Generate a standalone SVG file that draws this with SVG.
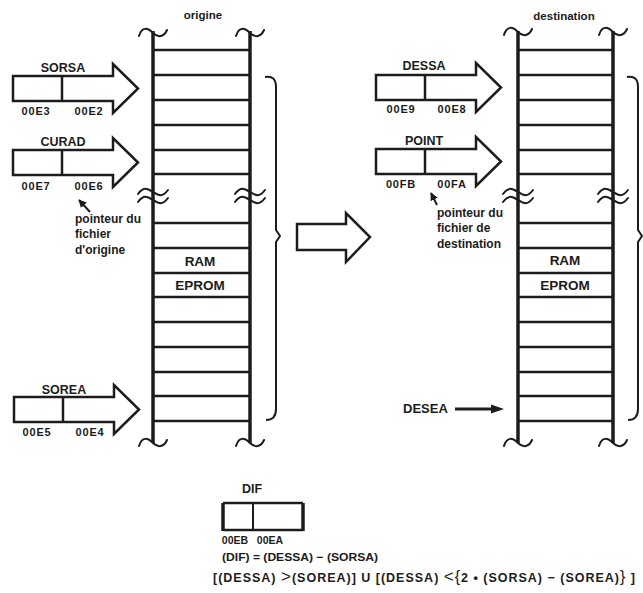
<svg xmlns="http://www.w3.org/2000/svg" width="643" height="593" viewBox="0 0 643 593">
<defs>
<style>
text{font-family:"Liberation Sans",Arial,sans-serif;font-weight:bold;fill:#1c1c1c}
.lbl{font-size:12.5px;text-anchor:middle}
.addr{font-size:11px;text-anchor:middle;letter-spacing:0.8px}
.note{font-size:12px}
.ttl{font-size:11.5px;text-anchor:middle}
.cell{font-size:13.5px;text-anchor:middle}
.rail{stroke:#1c1c1c;stroke-width:3.5;fill:none}
.row{stroke:#1c1c1c;stroke-width:2.5;fill:none}
.sq{stroke:#1c1c1c;stroke-width:2;fill:none;stroke-linecap:round}
.reg{stroke:#1c1c1c;stroke-width:2.5;fill:none;stroke-linejoin:miter}
.thin{stroke:#1c1c1c;stroke-width:2;fill:none}
</style>
<path id="regshape" d="M0,0 H100 V-12 L125,12.5 L100,37 V25 H0 Z M49,0 V25"/>
<path id="rows" d="M0,50 H97 M0,75 H97 M0,100 H97 M0,125 H97 M0,150 H97 M0,174 H97 M0,223 H97 M0,248 H97 M0,273 H97 M0,297 H97 M0,322 H97 M0,347 H97 M0,372 H97 M0,396 H97 M0,421 H97"/>
<path id="tilde" d="M-14,36 C-11,26 -5,28 0,33 C5,38 11,37 14,30"/>
<path id="brk" d="M-15,198 C-9,190 -5,193 0,196 C5,199 9,202 15,194 M-15,206 C-9,198 -5,201 0,204 C5,207 9,210 15,202"/>
<marker id="ah" viewBox="0 0 10 10" refX="9" refY="5" markerWidth="4" markerHeight="4" orient="auto"><path d="M0,0 L10,5 L0,10 Z" fill="#1c1c1c"/></marker>
</defs>
<rect width="643" height="593" fill="#ffffff"/>

<g id="memory-origine">
<text class="ttl" x="203" y="19">origine</text>
<line class="rail" x1="153" y1="31" x2="153" y2="443"/>
<line class="rail" x1="250" y1="31" x2="250" y2="443"/>
<use href="#rows" transform="translate(153,0)" class="row"/>
<use href="#tilde" transform="translate(153,0)" class="sq"/>
<use href="#tilde" transform="translate(250,0)" class="sq"/>
<use href="#tilde" transform="translate(153,410)" class="sq"/>
<use href="#tilde" transform="translate(250,410)" class="sq"/>
<use href="#brk" transform="translate(153,-4)" class="sq"/>
<use href="#brk" transform="translate(250,-4)" class="sq"/>
<text class="cell" x="200" y="266">RAM</text>
<text class="cell" x="200" y="290">EPROM</text>
</g>

<g id="memory-destination">
<text class="ttl" x="564" y="20">destination</text>
<line class="rail" x1="518" y1="31" x2="518" y2="443"/>
<line class="rail" x1="613" y1="31" x2="613" y2="443"/>
<use href="#rows" transform="translate(518,0) scale(0.98,1)" class="row"/>
<use href="#tilde" transform="translate(518,-1)" class="sq"/>
<use href="#tilde" transform="translate(613,-1)" class="sq"/>
<use href="#tilde" transform="translate(518,410)" class="sq"/>
<use href="#tilde" transform="translate(613,410)" class="sq"/>
<use href="#brk" transform="translate(518,-4)" class="sq"/>
<use href="#brk" transform="translate(613,-4)" class="sq"/>
<text class="cell" x="565" y="265">RAM</text>
<text class="cell" x="565" y="290">EPROM</text>
</g>

<g id="reg-sorsa">
<use href="#regshape" transform="translate(13,76)" class="reg"/>
<text class="lbl" x="63" y="72">SORSA</text>
<text class="addr" x="36" y="115">00E3</text>
<text class="addr" x="89" y="115">00E2</text>
</g>
<g id="reg-curad">
<use href="#regshape" transform="translate(13,150)" class="reg"/>
<text class="lbl" x="63" y="146">CURAD</text>
<text class="addr" x="36" y="190">00E7</text>
<text class="addr" x="89" y="190">00E6</text>
</g>
<g id="reg-sorea">
<use href="#regshape" transform="translate(14,397)" class="reg"/>
<text class="lbl" x="64" y="394">SOREA</text>
<text class="addr" x="37" y="436">00E5</text>
<text class="addr" x="90" y="436">00E4</text>
</g>
<g id="reg-dessa">
<use href="#regshape" transform="translate(376,75)" class="reg"/>
<text class="lbl" x="424" y="70">DESSA</text>
<text class="addr" x="401" y="113">00E9</text>
<text class="addr" x="452" y="113">00E8</text>
</g>
<g id="reg-point">
<use href="#regshape" transform="translate(376,149)" class="reg"/>
<text class="lbl" x="424" y="145">POINT</text>
<text class="addr" x="401" y="188">00FB</text>
<text class="addr" x="452" y="188">00FA</text>
</g>

<g id="note-origine">
<text class="note" x="75" y="223">pointeur du</text>
<text class="note" x="75" y="238">fichier</text>
<text class="note" x="75" y="254">d'origine</text>
</g>
<g id="note-destination">
<text class="note" x="437" y="217">pointeur du</text>
<text class="note" x="437" y="232">fichier de</text>
<text class="note" x="437" y="248">destination</text>
</g>

<g id="desea">
<text class="note" x="403" y="413" style="font-size:13px">DESEA</text>
</g>

<g id="transfer-arrow">
<path class="reg" d="M297,224 H346 V213 L370,237 L346,262 V250 H297 Z"/>
</g>

<g id="brackets">
<path class="thin" d="M265,77 Q276,75 276,87 V230 L280,236 L276,242 V409 Q276,420 266,420"/>
<path class="thin" d="M627,77 Q638,75 638,87 V230 L642,236 L638,242 V409 Q638,420 628,420"/>
</g>

<g id="connectors">
<line x1="90" y1="212" x2="79" y2="200" stroke="#1c1c1c" stroke-width="2" marker-end="url(#ah)"/>
<line x1="437" y1="205" x2="431" y2="193" stroke="#1c1c1c" stroke-width="2" marker-end="url(#ah)"/>
<line x1="455" y1="409" x2="494" y2="409" stroke="#1c1c1c" stroke-width="3"/>
<polygon points="491,404.5 504,409 491,413.5" fill="#1c1c1c"/>
</g>

<g id="reg-dif">
<text class="lbl" x="252" y="493">DIF</text>
<path d="M223,503 H303 M223,530 H303" stroke="#1c1c1c" stroke-width="2.5" fill="none"/>
<path d="M223,503 V531 M303,503 V531" stroke="#1c1c1c" stroke-width="3.5" fill="none"/>
<path d="M253,503 V530" stroke="#1c1c1c" stroke-width="2" fill="none"/>
<text x="235" y="544" style="font-size:10.5px;text-anchor:middle">00EB</text>
<text x="270" y="544" style="font-size:10.5px;text-anchor:middle">00EA</text>
</g>

<g id="formulas">
<text x="222" y="561" style="font-size:11.5px" textLength="156" lengthAdjust="spacingAndGlyphs">(DIF) = (DESSA) − (SORSA)</text>
<text x="213" y="582" style="font-size:12.5px" textLength="422" lengthAdjust="spacing">[(DESSA) <tspan style="font-size:17px;font-weight:normal">&gt;</tspan>(SOREA)] U [(DESSA) <tspan style="font-size:17px;font-weight:normal">&lt;</tspan><tspan style="font-size:16px;font-weight:normal">{</tspan>2 • (SORSA) − (SOREA)<tspan style="font-size:16px;font-weight:normal">}</tspan> ]</text>
</g>
</svg>
